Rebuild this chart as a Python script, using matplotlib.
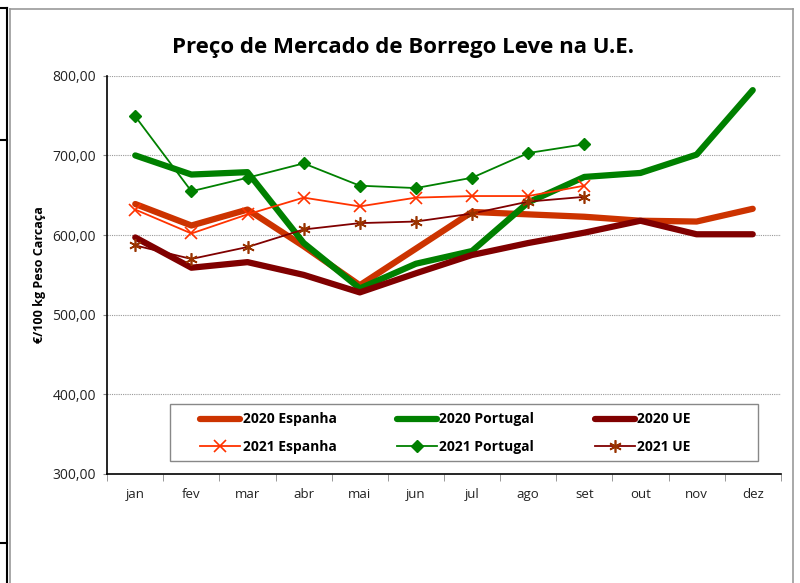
import matplotlib
matplotlib.use("Agg")
import matplotlib.pyplot as plt
from matplotlib.lines import Line2D
from matplotlib.patches import Rectangle
import numpy as np

months = ["jan", "fev", "mar", "abr", "mai", "jun", "jul", "ago", "set", "out", "nov", "dez"]

esp_2020 = [639, 612, 632, 586, 537, 583, 629, 626, 623, 618, 617, 633]
por_2020 = [700, 676, 679, 590, 533, 564, 580, 641, 673, 678, 701, 782]
ue_2020 = [597, 559, 566, 550, 528, 552, 575, 590, 603, 618, 601, 601]

esp_2021 = [632, 602, 626, 647, 636, 647, 649, 649, 662]
por_2021 = [749, 655, 672, 690, 662, 659, 672, 703, 714]
ue_2021 = [587, 570, 585, 607, 615, 617, 627, 642, 648]

yticks = [300, 400, 500, 600, 700, 800]

plt.rcParams['font.family'] = ['Open Sans', 'DejaVu Sans']

fig = plt.figure(figsize=(8, 5.83), dpi=100)
ax = fig.add_axes([0.134, 0.187, 0.842, 0.683])

x20 = np.arange(len(esp_2020))
x21 = np.arange(len(esp_2021))

h_esp20, = ax.plot(x20, esp_2020, color="#CC3300", lw=4.5, solid_capstyle="round", label="2020 Espanha", zorder=3)
h_por20, = ax.plot(x20, por_2020, color="#008000", lw=4.5, solid_capstyle="round", label="2020 Portugal", zorder=3)
h_ue20, = ax.plot(x20, ue_2020, color="#800000", lw=4.5, solid_capstyle="round", label="2020 UE", zorder=3)

h_esp21, = ax.plot(x21, esp_2021, color="#FF3300", lw=1.3, marker="x", ms=8, mew=1.2, label="2021 Espanha", zorder=4)
h_por21, = ax.plot(x21, por_2021, color="#008000", lw=1.3, marker="D", ms=6, label="2021 Portugal", zorder=4)
h_ue21, = ax.plot(x21, ue_2021, color="#800000", lw=1.3, marker=(6, 2, 0), ms=9, mew=1.2,
                  mec="#993300", label="2021 UE", zorder=4)

ax.set_xlim(-0.5, len(months) - 0.5)
ax.set_ylim(300, 800)
ax.set_yticks(yticks)
ax.set_yticklabels([f"{v:.2f}".replace(".", ",") for v in yticks], fontsize=10, color="#222222")
ax.set_xticks(x20)
ax.set_xticklabels(months, fontsize=9.5, color="#222222")
ax.set_xticks(np.arange(-0.5, len(months)), minor=True)
ax.tick_params(axis="x", which="major", length=0, pad=10)
ax.tick_params(axis="x", which="minor", length=5, color="#888888", direction="out")
ax.tick_params(axis="y", which="major", length=3, direction="out", pad=5, color="#888888")

for v in yticks[1:]:
    ax.axhline(v, color="#999999", lw=0.8, ls=(0, (1, 1)), zorder=1)

for s in ["top", "right"]:
    ax.spines[s].set_visible(False)
ax.spines["left"].set_color("black")
ax.spines["bottom"].set_color("black")
ax.spines["left"].set_linewidth(1.2)
ax.spines["bottom"].set_linewidth(1.2)

ax.set_ylabel("€/100 kg Peso Carcaça", fontsize=9, fontweight="bold", labelpad=5)

fig.text(0.504, 0.918, "Preço de Mercado de Borrego Leve na U.E.", ha="center", va="center",
         fontsize=16, fontweight="bold")

handles = [h_esp20, h_esp21, h_por20, h_por21, h_ue20, h_ue21]
leg = ax.legend(handles=handles, ncol=3, loc="center left",
                bbox_to_anchor=(0.138, 0.103),
                prop={"weight": "bold", "size": 10}, frameon=False,
                handlelength=2.9, handletextpad=0.15, borderpad=0, borderaxespad=0,
                columnspacing=4.35, labelspacing=0.95)
ax.add_patch(Rectangle((0.0935, 0.033), 0.8724, 0.143, transform=ax.transAxes,
                       facecolor="white", edgecolor="#888888", lw=1.0, zorder=4.5))
leg.set_zorder(5)

# outer frame decoration
fig.add_artist(Line2D([10/800, 10/800], [0, 1-9/583], color="#999999", lw=1.2, transform=fig.transFigure))
fig.add_artist(Line2D([10/800, 793/800], [1-9/583, 1-9/583], color="#999999", lw=1.2, transform=fig.transFigure))
fig.add_artist(Line2D([793/800, 793/800], [0, 1-9/583], color="#999999", lw=1.2, transform=fig.transFigure))
fig.add_artist(Line2D([7/800, 7/800], [0, 1-8/583], color="black", lw=1.5, transform=fig.transFigure))
fig.add_artist(Line2D([0, 7/800], [1-8/583, 1-8/583], color="black", lw=1.5, transform=fig.transFigure))
fig.add_artist(Line2D([0, 7/800], [1-140/583, 1-140/583], color="black", lw=1.5, transform=fig.transFigure))
fig.add_artist(Line2D([0, 7/800], [1-543/583, 1-543/583], color="black", lw=1.5, transform=fig.transFigure))

fig.savefig("out.png", dpi=100)
